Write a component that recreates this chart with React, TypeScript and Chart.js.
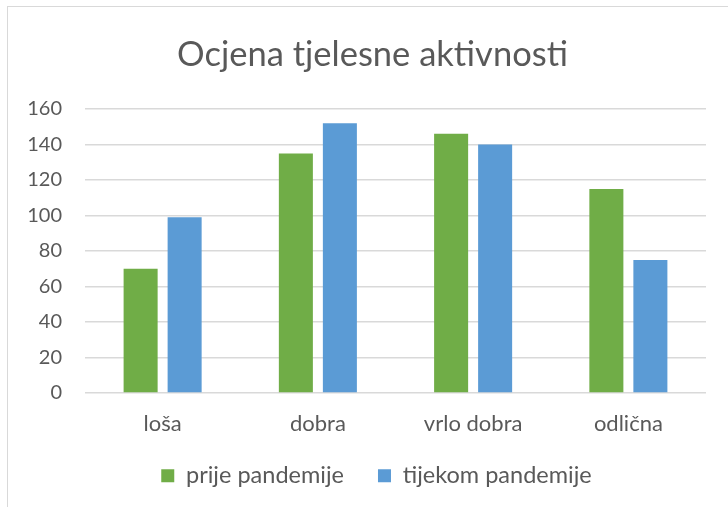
import React, { useEffect, useRef } from "react";
import { Chart, registerables } from "chart.js";

Chart.register(...registerables);

const categories = ["loša", "dobra", "vrlo dobra", "odlična"];
const seriesNames = ["prije pandemije", "tijekom pandemije"];
const prijeValues = [70, 135, 146, 115];
const tijekomValues = [99, 152, 140, 75];
const chartTitle = "Ocjena tjelesne aktivnosti";

const FONT = "Lato, 'Open Sans', sans-serif";
const TEXT = "#595959";

// nudges the title and legend boxes to match the reference's centring
const placeBlocks = {
  id: "placeBlocks",
  afterLayout(chart: any) {
    if (chart.titleBlock) chart.titleBlock.left = 39;
    if (chart.legend) {
      chart.legend.left = 47;
      chart.legend.top = 430;
    }
  },
};

export default function App() {
  const ref = useRef<HTMLCanvasElement | null>(null);

  useEffect(() => {
    document.body.style.margin = "0";
    const canvas = ref.current;
    if (!canvas) return;
    const chart = new Chart(canvas, {
      type: "bar",
      data: {
        labels: categories,
        datasets: [
          {
            label: seriesNames[0],
            data: prijeValues,
            backgroundColor: "#70AD47",
            barPercentage: 0.773,
            categoryPercentage: 0.567,
          },
          {
            label: seriesNames[1],
            data: tijekomValues,
            backgroundColor: "#5B9BD5",
            barPercentage: 0.773,
            categoryPercentage: 0.567,
          },
        ],
      },
      options: {
        animation: false,
        responsive: false,
        maintainAspectRatio: false,
        layout: { padding: { left: 0, right: 22, top: 0, bottom: 1.5 } },
        plugins: {
          title: {
            display: true,
            text: chartTitle,
            color: TEXT,
            font: { family: FONT, size: 34.5, weight: "normal", lineHeight: 1.2 },
            padding: { top: 34, bottom: 33.6 },
          },
          legend: {
            position: "bottom",
            labels: {
              color: TEXT,
              font: { family: FONT, size: 23.5 },
              boxWidth: 13,
              boxHeight: 13,
              padding: 34,
            },
          },
          tooltip: { enabled: false },
        },
        scales: {
          x: {
            grid: { display: false, drawTicks: false },
            border: { display: false },
            ticks: { color: TEXT, font: { family: FONT, size: 22 }, padding: 18 },
            afterFit: (s: any) => {
              s.height = 45;
            },
          },
          y: {
            min: 0,
            max: 160,
            grid: { color: "#d9d9d9", lineWidth: 1.5, drawTicks: false },
            border: { display: false },
            ticks: {
              stepSize: 20,
              color: TEXT,
              font: { family: FONT, size: 20 },
              padding: 23,
            },
            afterFit: (s: any) => {
              s.width = 85;
            },
          },
        },
      },
      plugins: [placeBlocks],
    });
    return () => chart.destroy();
  }, []);

  return (
    <div style={{ position: "relative", width: 728, height: 507, overflow: "hidden", background: "#fff" }}>
      <div
        style={{
          position: "absolute",
          left: 7,
          top: 6,
          width: 740,
          height: 520,
          border: "1px solid #d9d9d9",
          boxSizing: "border-box",
        }}
      />
      <canvas ref={ref} width={728} height={507} style={{ position: "absolute", left: 0, top: 0 }} />
    </div>
  );
}
